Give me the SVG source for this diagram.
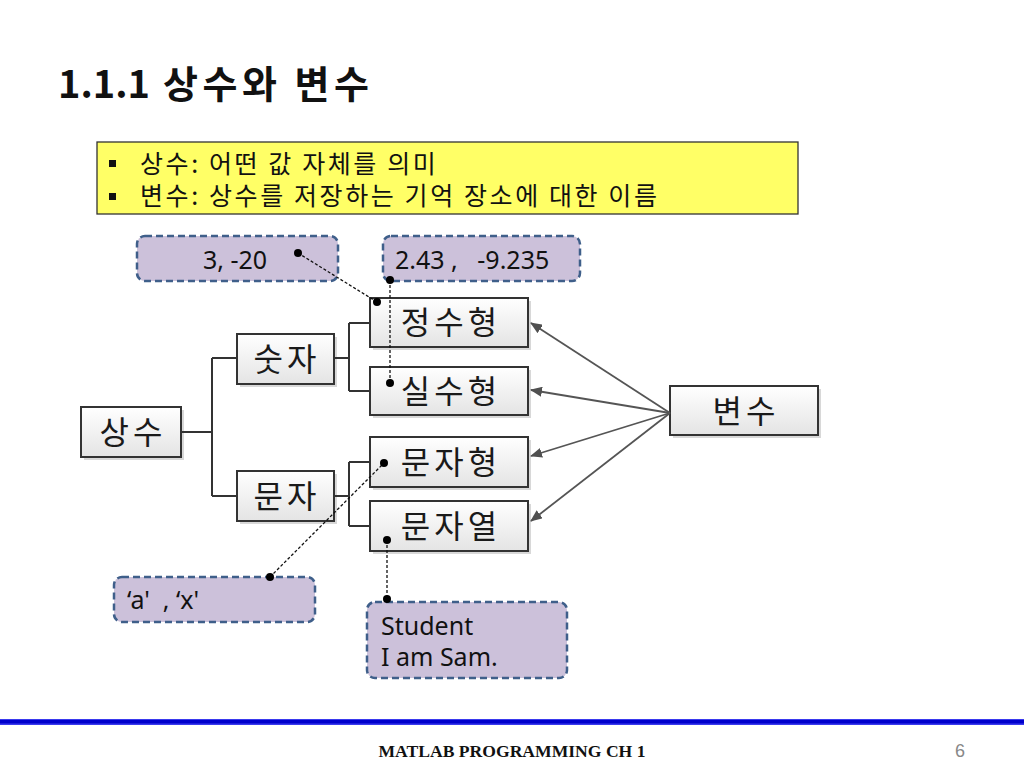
<svg xmlns="http://www.w3.org/2000/svg" width="1024" height="768" viewBox="0 0 1024 768">
<defs>
<linearGradient id="ng" x1="0" y1="0" x2="0" y2="1">
<stop offset="0" stop-color="#ffffff"/>
<stop offset="1" stop-color="#e4e4e4"/>
</linearGradient>
<marker id="ah" viewBox="0 0 12 10" refX="11" refY="5" markerWidth="12" markerHeight="10" markerUnits="userSpaceOnUse" orient="auto">
<path d="M0,0 L12,5 L0,10 Z" fill="#505050"/>
</marker>
<style>
.kr{font-family:"Noto Sans CJK KR","Noto Sans",sans-serif;}
.lat{font-family:"Noto Sans","Open Sans",sans-serif;font-size:25px;fill:#111;}
.nbox{fill:url(#ng);stroke:#333;stroke-width:2;}
.shd{fill:#c8c8c8;opacity:0.7;}
.ntx{font-family:"Noto Sans CJK KR",sans-serif;font-size:32px;fill:#1a1a1a;letter-spacing:4px;text-anchor:middle;}
.call{fill:#ccc1da;stroke:#3f5f8a;stroke-width:2.5;stroke-dasharray:7 4;}
.tree{fill:none;stroke:#333;stroke-width:2;}
.arr{stroke:#555;stroke-width:1.8;fill:none;}
.dot{stroke:#111;stroke-width:1.3;stroke-dasharray:3 2;fill:none;}
.body{font-size:25px;fill:#111;letter-spacing:2.6px;}
</style>
</defs>
<rect width="1024" height="768" fill="#fff"/>

<text x="58" y="98" class="kr" font-size="38" font-weight="700" fill="#111">1.1.1 <tspan x="163" letter-spacing="4.5">상수와 변수</tspan></text>

<g id="infobox">
<rect x="97" y="142" width="701" height="72" fill="#ffff66" stroke="#333" stroke-width="1.3"/>
<rect x="109" y="160" width="7" height="7" fill="#111"/>
<rect x="109" y="193" width="7" height="7" fill="#111"/>
<text x="140" y="173" class="kr body">상수: 어떤 값 자체를 의미</text>
<text x="140" y="205" class="kr body">변수: 상수를 저장하는 기억 장소에 대한 이름</text>
</g>

<g id="node-sangsu">
<rect class="shd" x="84" y="410" width="100" height="50"/>
<rect class="nbox" x="81" y="407" width="100" height="50"/>
<text class="ntx" x="133" y="444">상수</text>
</g>
<g id="node-sutja">
<rect class="shd" x="240" y="337" width="97" height="50"/>
<rect class="nbox" x="237" y="334" width="97" height="50"/>
<text class="ntx" x="287" y="371">숫자</text>
</g>
<g id="node-munja">
<rect class="shd" x="240" y="474" width="97" height="50"/>
<rect class="nbox" x="237" y="471" width="97" height="50"/>
<text class="ntx" x="287" y="508">문자</text>
</g>
<g id="node-jeongsu">
<rect class="shd" x="373" y="301" width="158" height="49"/>
<rect class="nbox" x="370" y="298" width="158" height="49"/>
<text class="ntx" x="451" y="334">정수형</text>
</g>
<g id="node-silsu">
<rect class="shd" x="373" y="370" width="158" height="48"/>
<rect class="nbox" x="370" y="367" width="158" height="48"/>
<text class="ntx" x="451" y="403">실수형</text>
</g>
<g id="node-munjahyeong">
<rect class="shd" x="373" y="440" width="158" height="50"/>
<rect class="nbox" x="370" y="437" width="158" height="50"/>
<text class="ntx" x="451" y="474">문자형</text>
</g>
<g id="node-munjayeol">
<rect class="shd" x="373" y="504" width="158" height="50"/>
<rect class="nbox" x="370" y="501" width="158" height="50"/>
<text class="ntx" x="451" y="538">문자열</text>
</g>
<g id="node-byeonsu">
<rect class="shd" x="673" y="389" width="148" height="49"/>
<rect class="nbox" x="670" y="386" width="148" height="49"/>
<text class="ntx" x="746" y="423">변수</text>
</g>

<g id="callout-int">
<rect class="call" x="137" y="236" width="201" height="45" rx="8"/>
<text class="lat" x="203" y="269">3, -20</text>
</g>
<g id="callout-real">
<rect class="call" x="383" y="236" width="197" height="45" rx="8"/>
<text class="lat" x="395" y="269" xml:space="preserve">2.43 ,   -9.235</text>
</g>
<g id="callout-char">
<rect class="call" x="114" y="577" width="201" height="45" rx="8"/>
<text class="lat" x="127" y="609" xml:space="preserve">‘a'  , ‘x'</text>
</g>
<g id="callout-string">
<rect class="call" x="367" y="602" width="200" height="76" rx="8"/>
<text class="lat" x="381" y="635">Student</text>
<text class="lat" x="381" y="666">I am Sam.</text>
</g>

<g id="connectors">
<path class="tree" d="M181,432 H212 M212,358 V496 M212,358 H237 M212,496 H237"/>
<path class="tree" d="M334,358 H349 M349,323 V391 M349,323 H370 M349,391 H370"/>
<path class="tree" d="M334,496 H349 M349,462 V526 M349,462 H370 M349,526 H370"/>
<line class="arr" x1="670" y1="413" x2="531" y2="323" marker-end="url(#ah)"/>
<line class="arr" x1="670" y1="413" x2="531" y2="390" marker-end="url(#ah)"/>
<line class="arr" x1="670" y1="413" x2="531" y2="456" marker-end="url(#ah)"/>
<line class="arr" x1="670" y1="413" x2="531" y2="521" marker-end="url(#ah)"/>
<line class="dot" x1="298" y1="253" x2="377" y2="302"/>
<line class="dot" x1="390" y1="280" x2="390" y2="383"/>
<line class="dot" x1="270" y1="577" x2="384" y2="463"/>
<line class="dot" x1="387" y1="540" x2="387" y2="599"/>
<circle cx="298" cy="253" r="4" fill="#000"/>
<circle cx="377" cy="302" r="4" fill="#000"/>
<circle cx="390" cy="280" r="4" fill="#000"/>
<circle cx="390" cy="383" r="4" fill="#000"/>
<circle cx="270" cy="577" r="4" fill="#000"/>
<circle cx="384" cy="463" r="4" fill="#000"/>
<circle cx="387" cy="540" r="4" fill="#000"/>
<circle cx="387" cy="599" r="4" fill="#000"/>
</g>

<g id="footer">
<rect x="0" y="719" width="1024" height="6" fill="#3a3aee"/>
<rect x="0" y="720" width="1024" height="3.5" fill="#0000cc"/>
<text x="512" y="757" font-family="Liberation Serif, serif" font-weight="700" font-size="17.6" fill="#111" text-anchor="middle">MATLAB PROGRAMMING CH 1</text>
<text x="955" y="757" font-family="Liberation Sans, sans-serif" font-size="18" fill="#888">6</text>
</g>
</svg>
